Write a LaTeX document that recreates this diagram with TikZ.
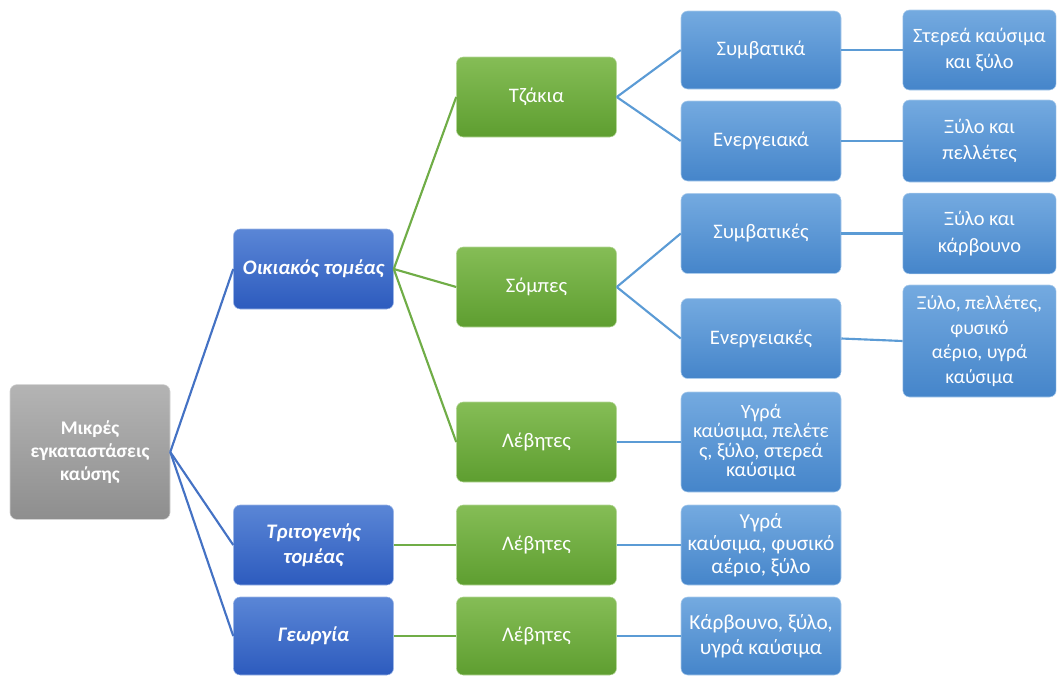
\documentclass[tikz,border=0pt]{standalone}
\usepackage{fontspec}
\setmainfont{Carlito}
\definecolor{GrayTop}{HTML}{B4B4B4}
\definecolor{GrayBot}{HTML}{8E8E8E}
\definecolor{DarkTop}{HTML}{5A86D6}
\definecolor{DarkBot}{HTML}{2D5BBE}
\definecolor{GreenTop}{HTML}{85BD56}
\definecolor{GreenBot}{HTML}{5E9E30}
\definecolor{LightTop}{HTML}{74AAE0}
\definecolor{LightBot}{HTML}{4585CA}
\definecolor{DarkLine}{HTML}{4472C4}
\definecolor{GreenLine}{HTML}{70AD47}
\definecolor{LightLine}{HTML}{5B9BD5}
\begin{document}
\begin{tikzpicture}[x=0.75pt,y=-0.75pt]

\tikzset{Box/.style={rectangle, rounded corners=5pt, text=white, align=center,
                     inner sep=1pt, minimum width=120pt, minimum height=60pt,
                     font=\fontsize{15.5}{19}\selectfont},
         GrayBox/.style={Box, top color=GrayTop, bottom color=GrayBot, draw=GrayTop!60!white},
         DarkBox/.style={Box, top color=DarkTop, bottom color=DarkBot, draw=DarkTop!60!white,
                         font=\fontsize{15.5}{19}\selectfont\bfseries\itshape},
         GreenBox/.style={Box, top color=GreenTop, bottom color=GreenBot, draw=GreenTop!60!white},
         LightBox/.style={Box, top color=LightTop, bottom color=LightBot, draw=LightTop!60!white},
         DarkEdge/.style={draw=DarkLine, line width=1.6pt},
         GreenEdge/.style={draw=GreenLine, line width=1.6pt},
         LightEdge/.style={draw=LightLine, line width=1.6pt}}

\useasboundingbox (0,0) rectangle (1057,675);

\node[GrayBox, minimum height=101pt, font=\fontsize{14.5}{17.5}\selectfont\bfseries]
     (root) at (90,452) {Μικρές\\εγκαταστάσεις\\καύσης};

\node[DarkBox] (oik) at (313.5,269) {Οικιακός τομέας};
\node[DarkBox] (tri) at (313.5,545) {Τριτογενής\\τομέας};
\node[DarkBox, minimum height=58.5pt] (geo) at (313.5,636) {Γεωργία};

\node[GreenBox] (tzak) at (536.5,97) {Τζάκια};
\node[GreenBox] (somp) at (536.5,287) {Σόμπες};
\node[GreenBox] (leb1) at (536.5,442) {Λέβητες};
\node[GreenBox] (leb2) at (536.5,545) {Λέβητες};
\node[GreenBox, minimum height=58.5pt] (leb3) at (536.5,636) {Λέβητες};

\node[LightBox, minimum height=58.5pt] (symva) at (761,50) {Συμβατικά};
\node[LightBox] (energa) at (761,141) {Ενεργειακά};
\node[LightBox] (symve) at (761,233.5) {Συμβατικές};
\node[LightBox] (energe) at (761,338.5) {Ενεργειακές};
\node[LightBox, minimum height=75pt, font=\fontsize{15.2}{14.6}\selectfont]
     (kaus1) at (761,442) {Υγρά\\καύσιμα, πελέτε\\ς, ξύλο, στερεά\\καύσιμα};
\node[LightBox, font=\fontsize{16}{17}\selectfont]
     (kaus2) at (761,545) {Υγρά\\καύσιμα, φυσικό\\αέριο, ξύλο};
\node[LightBox, minimum height=58.5pt, font=\fontsize{16}{18.5}\selectfont]
     (kaus3) at (761,636) {Κάρβουνο, ξύλο,\\υγρά καύσιμα};

\node[LightBox, minimum width=115pt, minimum height=60pt, font=\fontsize{15.3}{20}\selectfont]
     (fuel1) at (979.5,50) {Στερεά καύσιμα\\και ξύλο};
\node[LightBox, minimum width=115pt, minimum height=61.5pt, font=\fontsize{15.3}{20}\selectfont]
     (fuel2) at (979.5,141) {Ξύλο και\\πελλέτες};
\node[LightBox, minimum width=115pt, minimum height=60.5pt, font=\fontsize{15.3}{20}\selectfont]
     (fuel3) at (979.5,233.5) {Ξύλο και\\κάρβουνο};
\node[LightBox, minimum width=115pt, minimum height=84pt, font=\fontsize{14.8}{18.5}\selectfont]
     (fuel4) at (979.5,341) {Ξύλο, πελλέτες,\\φυσικό\\αέριο, υγρά\\καύσιμα};

\draw[DarkEdge] (root.east) -- (oik.west);
\draw[DarkEdge] (root.east) -- (tri.west);
\draw[DarkEdge] (root.east) -- (geo.west);

\draw[GreenEdge] (oik.east) -- (tzak.west);
\draw[GreenEdge] (oik.east) -- (somp.west);
\draw[GreenEdge] (oik.east) -- (leb1.west);
\draw[GreenEdge] (tri.east) -- (leb2.west);
\draw[GreenEdge] (geo.east) -- (leb3.west);

\draw[LightEdge] (tzak.east) -- (symva.west);
\draw[LightEdge] (tzak.east) -- (energa.west);
\draw[LightEdge] (somp.east) -- (symve.west);
\draw[LightEdge] (somp.east) -- (energe.west);
\draw[LightEdge] (leb1.east) -- (kaus1.west);
\draw[LightEdge] (leb2.east) -- (kaus2.west);
\draw[LightEdge] (leb3.east) -- (kaus3.west);

\draw[LightEdge] (symva.east) -- (fuel1.west);
\draw[LightEdge] (energa.east) -- (fuel2.west);
\draw[LightEdge] (symve.east) -- (fuel3.west);
\draw[LightEdge] (energe.east) -- (fuel4.west);

\end{tikzpicture}
\end{document}
